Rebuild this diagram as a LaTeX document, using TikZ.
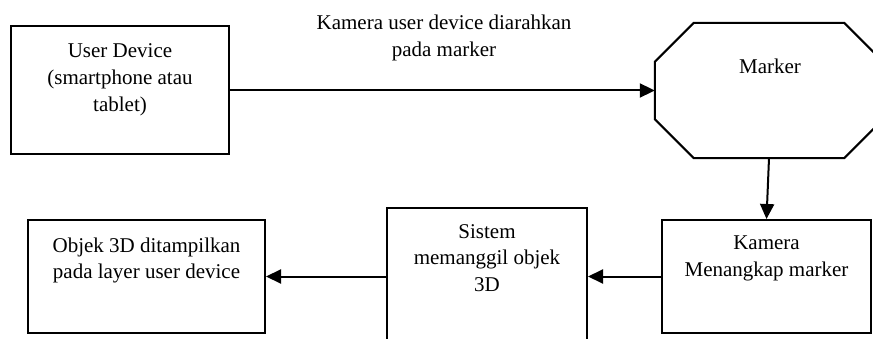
\documentclass[tikz,border=0pt]{standalone}
\usepackage{fontspec}
\setmainfont{Liberation Serif}
\usetikzlibrary{arrows.meta}
\tikzset{
  box/.style={draw=black, line width=2pt, inner sep=0pt, fill=white},
  txt/.style={inner sep=0pt, align=center, anchor=north, font=\fontsize{21}{26.7}\selectfont},
  conn/.style={line width=2pt, -{Triangle[length=15pt,width=14pt]}},
}
\begin{document}
\begin{tikzpicture}[x=1pt,y=-1pt]
\useasboundingbox (0,0) rectangle (873,339);
\clip (0,0) rectangle (873,339);
% boxes
\node[box, minimum width=218pt, minimum height=128pt] (ud) at (120,90.5) {};
\node[minimum width=228pt, minimum height=135pt, inner sep=0pt] (marker) at (769,90.5) {};
\draw[line width=2pt, fill=white]
  ([xshift=39pt]marker.north west) -- ([xshift=-39pt]marker.north east)
  -- ([yshift=-39pt]marker.north east) -- ([yshift=39pt]marker.south east)
  -- ([xshift=-39pt]marker.south east) -- ([xshift=39pt]marker.south west)
  -- ([yshift=39pt]marker.south west) -- ([yshift=-39pt]marker.north west) -- cycle;
\node[box, minimum width=209pt, minimum height=113pt] (kam) at (766.5,276.5) {};
\node[box, minimum width=200pt, minimum height=137pt] (sis) at (487,276.5) {};
\node[box, minimum width=237pt, minimum height=113pt] (obj) at (146.5,276.5) {};
% texts
\node[txt] (tud) at (120,43.7) {User Device\\(smartphone atau\\tablet)};
\node[txt] (tlab) at (444,15) {Kamera user device diarahkan\\pada marker};
\node[txt] (tmk) at (770,59) {Marker};
\node[txt] (tkam) at (766.5,235.7) {Kamera\\Menangkap marker};
\node[txt] (tsis) at (487,224) {Sistem\\memanggil objek\\3D};
\node[txt] (tobj) at (146.5,237.4) {Objek 3D ditampilkan\\pada layer user device};
% connectors
\draw[conn] (ud.east) -- (marker.west);
\draw[conn] (marker.south) -- (kam.north);
\draw[conn] (kam.west) -- (sis.east);
\draw[conn] (sis.west) -- (obj.east);
\end{tikzpicture}
\end{document}
